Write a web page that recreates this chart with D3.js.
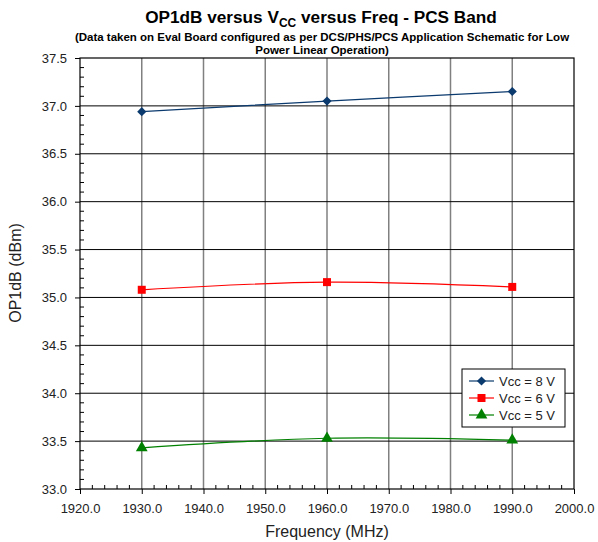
<!DOCTYPE html>
<html><head><meta charset="utf-8">
<script src="https://cdn.jsdelivr.net/npm/d3@7"></script>
<style>body{margin:0;background:#fff}svg{display:block;font-family:"Liberation Sans",Arial,sans-serif}</style>
</head><body><svg id="c" width="598" height="542"></svg>
<script>
const freqs = [1930, 1960, 1990];
const vcc8 = [36.94, 37.05, 37.15];
const vcc6 = [35.08, 35.16, 35.11];
const vcc5 = [33.43, 33.53, 33.51];
const seriesNames = ["Vcc = 8 V", "Vcc = 6 V", "Vcc = 5 V"];
const xTicks = [1920, 1930, 1940, 1950, 1960, 1970, 1980, 1990, 2000];
const yTicks = [33.0, 33.5, 34.0, 34.5, 35.0, 35.5, 36.0, 36.5, 37.0, 37.5];

const series = [
  {name: seriesNames[0], values: vcc8, color: "#0b3a6e", sym: d3.symbolSquare, size: 42, rot: 45},
  {name: seriesNames[1], values: vcc6, color: "#ff0000", sym: d3.symbolSquare, size: 64, rot: 0},
  {name: seriesNames[2], values: vcc5, color: "#008000", sym: d3.symbolTriangle, size: 60, rot: 0}
];

const svg = d3.select("#c");
const L = 80, R = 574, T = 58, B = 489;
const x = d3.scaleLinear().domain([1920, 2000]).range([L, R]);
const y = d3.scaleLinear().domain([33.0, 37.5]).range([B, T]);

// grid
svg.append("g").selectAll("line").data(xTicks.slice(1, -1)).join("line")
  .attr("x1", d => x(d)).attr("x2", d => x(d)).attr("y1", T).attr("y2", B)
  .attr("stroke", "#808080").attr("stroke-width", 1.5);
svg.append("g").selectAll("line").data(yTicks.slice(1, -1)).join("line")
  .attr("x1", L).attr("x2", R).attr("y1", d => y(d)).attr("y2", d => y(d))
  .attr("stroke", "#000").attr("stroke-width", 1);

// frame
svg.append("rect").attr("x", L).attr("y", T).attr("width", R - L).attr("height", B - T)
  .attr("fill", "none").attr("stroke", "#000").attr("stroke-width", 1.2);

// axes
const xAxis = d3.axisBottom(x).tickValues(xTicks).tickFormat(d3.format(".1f")).tickSize(5).tickPadding(10);
const gx = svg.append("g").attr("transform", `translate(0,${B})`).call(xAxis);
gx.select(".domain").remove();
gx.selectAll("text").attr("font-size", 13).attr("fill", "#222").attr("font-family", "Liberation Sans, Arial, sans-serif");
const xMinor = d3.range(1920, 2000.1, 2).filter(v => v % 10 !== 0);
svg.append("g").selectAll("line").data(xMinor).join("line")
  .attr("x1", d => x(d)).attr("x2", d => x(d)).attr("y1", B).attr("y2", B - 4).attr("stroke", "#000");

const yAxis = d3.axisLeft(y).tickValues(yTicks).tickFormat(d3.format(".1f")).tickSize(5).tickPadding(8);
const gy = svg.append("g").attr("transform", `translate(${L},0)`).call(yAxis);
gy.select(".domain").remove();
gy.selectAll("text").attr("font-size", 13).attr("fill", "#222").attr("font-family", "Liberation Sans, Arial, sans-serif");
const yMinor = d3.range(33.0, 37.51, 0.1).filter(v => Math.abs(v * 2 - Math.round(v * 2)) > 0.01);
svg.append("g").selectAll("line").data(yMinor).join("line")
  .attr("x1", L).attr("x2", L + 4).attr("y1", d => y(d)).attr("y2", d => y(d)).attr("stroke", "#000");

// lines
const line = d3.line().x((d, i) => x(freqs[i])).y(d => y(d)).curve(d3.curveCatmullRom.alpha(0.5));
series.forEach(s => {
  svg.append("path").attr("d", line(s.values)).attr("fill", "none").attr("stroke", s.color).attr("stroke-width", 1.2);
  svg.append("g").selectAll("path").data(s.values).join("path")
    .attr("transform", (d, i) => `translate(${x(freqs[i])},${y(d)}) rotate(${s.rot})`)
    .attr("d", d3.symbol().type(s.sym).size(s.size))
    .attr("fill", s.color);
});

// titles
svg.append("text").attr("x", 321).attr("y", 23).attr("text-anchor", "middle")
  .attr("font-size", 17.2).attr("font-weight", "bold")
  .call(t => {
    t.append("tspan").text("OP1dB versus V");
    t.append("tspan").attr("font-size", 12).attr("dy", 4).text("CC");
    t.append("tspan").attr("dy", -4).text(" versus Freq - PCS Band");
  });
svg.append("text").attr("x", 322).attr("y", 41).attr("text-anchor", "middle")
  .attr("font-size", 11.5).attr("font-weight", "bold")
  .text("(Data taken on Eval Board configured as per DCS/PHS/PCS Application Schematic for Low");
svg.append("text").attr("x", 322).attr("y", 54).attr("text-anchor", "middle")
  .attr("font-size", 11.5).attr("font-weight", "bold")
  .text("Power Linear Operation)");

svg.append("text").attr("x", 327).attr("y", 537).attr("text-anchor", "middle")
  .attr("font-size", 16).attr("fill", "#222").text("Frequency (MHz)");
svg.append("text").attr("transform", "translate(21,273) rotate(-90)").attr("text-anchor", "middle")
  .attr("font-size", 16).attr("fill", "#222").text("OP1dB (dBm)");

// legend
const lg = svg.append("g").attr("transform", "translate(462,369)");
lg.append("rect").attr("width", 103).attr("height", 58).attr("fill", "#fff").attr("stroke", "#000").attr("stroke-width", 1);
series.forEach((s, i) => {
  const yy = 12 + i * 17;
  lg.append("line").attr("x1", 7).attr("x2", 32).attr("y1", yy).attr("y2", yy).attr("stroke", s.color).attr("stroke-width", 1.2);
  lg.append("path").attr("transform", `translate(19.5,${yy}) rotate(${s.rot})`)
    .attr("d", d3.symbol().type(s.sym).size(s.size))
    .attr("fill", s.color);
  lg.append("text").attr("x", 37).attr("y", yy + 5).attr("font-size", 13).attr("fill", "#222").text(s.name);
});
</script></body></html>
